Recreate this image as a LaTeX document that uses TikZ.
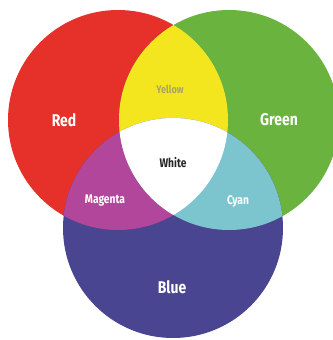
\documentclass[tikz,border=0pt]{standalone}
\usepackage{fontspec}
\setmainfont{Fira Sans}[FakeStretch=0.82]
\definecolor{cred}{HTML}{E5312A}
\definecolor{cgreen}{HTML}{6BB33F}
\definecolor{cblue}{HTML}{4A4590}
\definecolor{cyellow}{HTML}{F3E61E}
\definecolor{cmagenta}{HTML}{B1469B}
\definecolor{ccyan}{HTML}{7CC5CF}
\definecolor{cyellowtxt}{HTML}{A8A46A}
\definecolor{cwhitetxt}{HTML}{262626}
\tikzset{
  lbl/.style={text=white, font=\bfseries, inner sep=0pt},
  big/.style={lbl, font=\fontsize{17}{20}\selectfont\bfseries},
  mid/.style={lbl, font=\fontsize{12.5}{15}\selectfont\bfseries},
}
\begin{document}
\begin{tikzpicture}[x=1pt,y=-1pt]
\useasboundingbox (0,0) rectangle (332,340);
\def\rr{110}
\coordinate (R) at (118,120);
\coordinate (G) at (229,120);
\coordinate (B) at (173,228);
\fill[cred] (R) circle (\rr);
\fill[cgreen] (G) circle (\rr);
\fill[cblue] (B) circle (\rr);
\begin{scope}
  \clip (R) circle (\rr);
  \fill[cyellow] (G) circle (\rr);
  \fill[cmagenta] (B) circle (\rr);
\end{scope}
\begin{scope}
  \clip (G) circle (\rr);
  \fill[ccyan] (B) circle (\rr);
\end{scope}
\begin{scope}
  \clip (R) circle (\rr);
  \clip (G) circle (\rr);
  \fill[white] (B) circle (\rr);
\end{scope}
\node[big] (red) at (64,120) {Red};
\node[big] (green) at (279,120) {Green};
\node[big] (blue) at (172,287) {Blue};
\node[lbl, font=\fontsize{11}{13}\selectfont\bfseries, text=cyellowtxt] (yellow) at (170,89) {Yellow};
\node[mid, text=cwhitetxt] (white) at (173,163) {White};
\node[mid] (magenta) at (105,201) {Magenta};
\node[mid] (cyan) at (238,201) {Cyan};
\end{tikzpicture}
\end{document}
